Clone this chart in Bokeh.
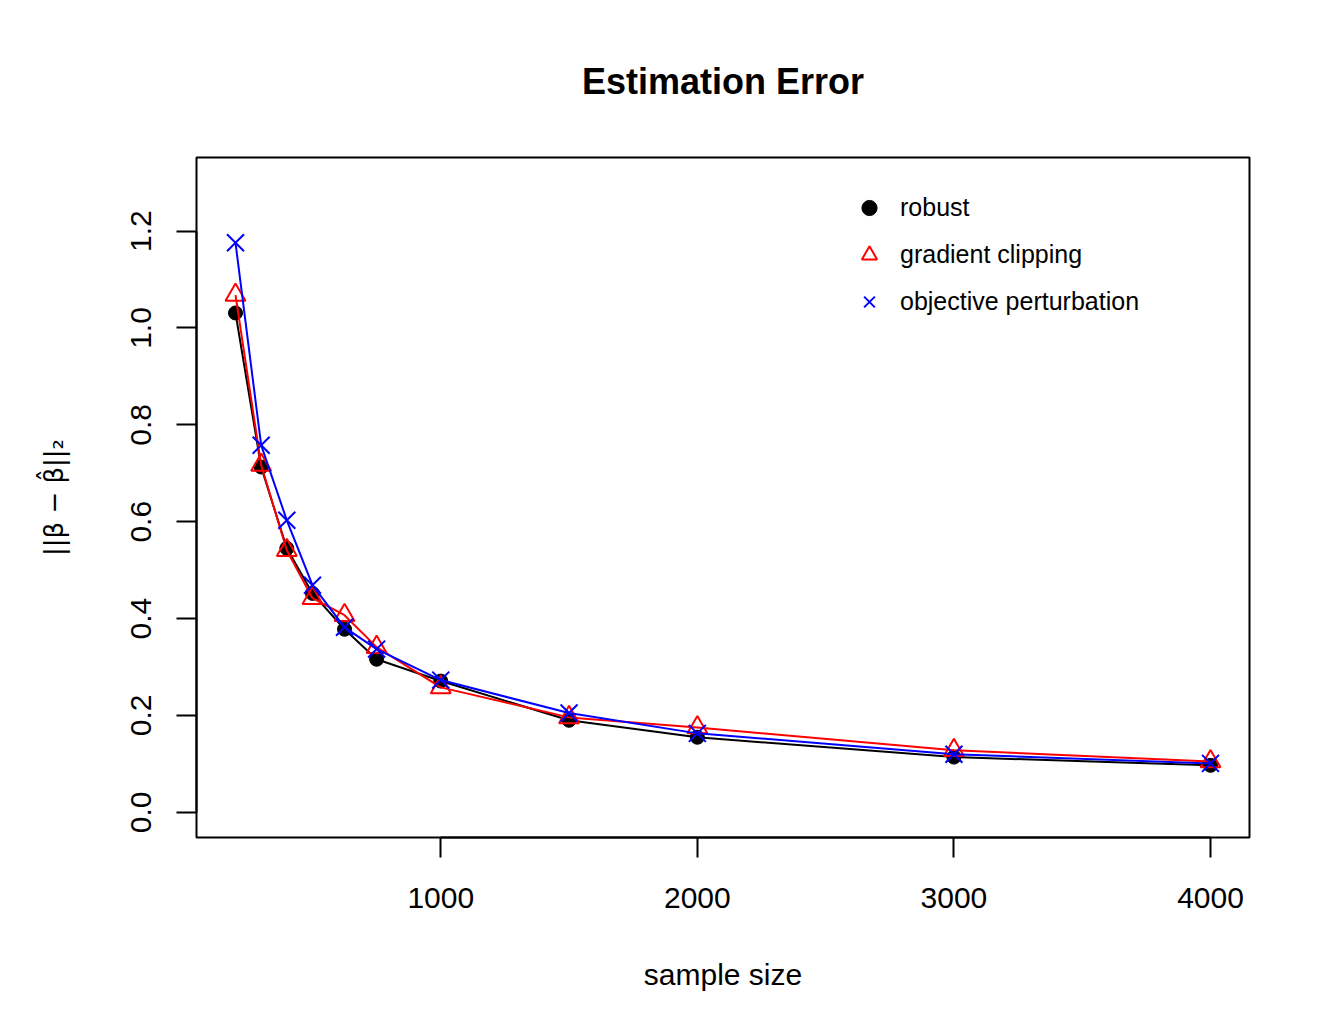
from bokeh.plotting import figure
from bokeh.models import Range1d, LinearAxis, FixedTicker, Legend, LegendItem, NumeralTickFormatter, Title
from bokeh.embed import file_html
from bokeh.resources import INLINE

sample_size = [200, 300, 400, 500, 625, 750, 1000, 1500, 2000, 3000, 4000]
robust = [1.031, 0.713, 0.545, 0.452, 0.378, 0.316, 0.271, 0.190, 0.155, 0.114, 0.097]
gradient_clipping = [1.068, 0.717, 0.541, 0.442, 0.407, 0.341, 0.258, 0.196, 0.175, 0.128, 0.105]
objective_perturbation = [1.176, 0.758, 0.603, 0.469, 0.382, 0.337, 0.273, 0.205, 0.163, 0.120, 0.101]
x_ticks = [1000, 2000, 3000, 4000]
y_ticks = [0.0, 0.2, 0.4, 0.6, 0.8, 1.0, 1.2]
series_names = ["robust", "gradient clipping", "objective perturbation"]

FONT = "Liberation Sans"

# R-style 4% padding around the data range
x_lo, x_hi = min(sample_size), max(sample_size)
x_pad = 0.04 * (x_hi - x_lo)
y_lo, y_hi = 0.0, 1.3
y_pad = 0.04 * (y_hi - y_lo)

p = figure(width=1314, height=1018, output_backend="svg", toolbar_location=None,
           x_range=Range1d(x_lo - x_pad, x_hi + x_pad),
           y_range=Range1d(y_lo - y_pad, y_hi + y_pad),
           x_axis_location=None, y_axis_location=None,
           min_border_left=196, min_border_right=65, min_border_top=157, min_border_bottom=181)
p.background_fill_color = "white"
p.border_fill_color = "white"
p.outline_line_color = "black"
p.outline_line_width = 2
p.xgrid.visible = False
p.ygrid.visible = False

title = Title(text="Estimation Error", align="center", text_font=FONT, text_font_size="36px",
              text_font_style="bold", text_color="black", standoff=111)
p.add_layout(title, "above")

def style_axis(ax):
    ax.major_tick_out = 20
    ax.major_tick_in = 0
    ax.major_tick_line_width = 2
    ax.major_tick_line_color = "black"
    ax.minor_tick_line_color = None
    ax.axis_line_color = "black"
    ax.axis_line_width = 2
    ax.major_label_text_font = FONT
    ax.major_label_text_font_size = "30px"
    ax.major_label_text_color = "black"
    ax.axis_label_text_font = FONT
    ax.axis_label_text_font_size = "30px"
    ax.axis_label_text_font_style = "normal"
    ax.axis_label_text_color = "black"

xa = LinearAxis(ticker=FixedTicker(ticks=x_ticks), bounds=(x_ticks[0], x_ticks[-1]),
                axis_label="sample size")
style_axis(xa)
xa.major_label_standoff = 30
xa.axis_label_standoff = 47
p.add_layout(xa, "below")

ya = LinearAxis(ticker=FixedTicker(ticks=y_ticks), bounds=(y_ticks[0], y_ticks[-1]),
                formatter=NumeralTickFormatter(format="0.0"),
                axis_label="||β − β\u0302||\u2082")
style_axis(ya)
ya.axis_label_text_font = "DejaVu Sans"
ya.axis_label_text_font_size = "26px"
ya.major_label_orientation = "vertical"
ya.major_label_standoff = 25
ya.axis_label_standoff = 60
p.add_layout(ya, "left")

colors = ["black", "red", "blue"]
values = [robust, gradient_clipping, objective_perturbation]
items = []
for name, col, ys in zip(series_names, colors, values):
    p.line(sample_size, ys, line_color=col, line_width=2)
    if name == "robust":
        r = p.scatter(sample_size, ys, marker="circle", size=14, fill_color=col, line_color=col)
    elif name == "gradient clipping":
        r = p.scatter(sample_size, ys, marker="triangle", size=20, fill_color=None,
                      line_color=col, line_width=2)
    else:
        r = p.scatter(sample_size, ys, marker="x", size=24, line_color=col, line_width=2)
    items.append(LegendItem(label=name, renderers=[r]))

legend = Legend(items=items, location=(654, 512), padding=0, margin=0, spacing=0,
                glyph_width=38, glyph_height=47, label_height=47, label_standoff=12,
                label_text_font=FONT, label_text_font_size="25px", label_text_color="black",
                border_line_color=None, background_fill_alpha=0)
p.add_layout(legend)

open("out.html", "w").write(file_html(p, INLINE))
